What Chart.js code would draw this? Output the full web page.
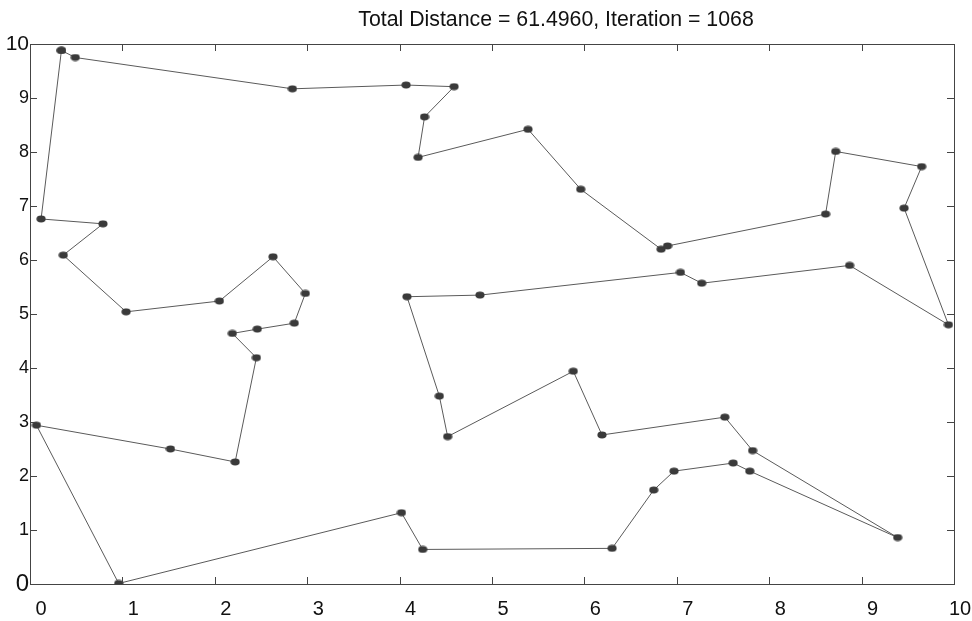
<!DOCTYPE html>
<html>
<head>
<meta charset="utf-8">
<script src="https://cdn.jsdelivr.net/npm/chart.js@4.4.1/dist/chart.umd.min.js"></script>
<style>
  body { margin: 0; background: #fff; }
  #wrap { width: 972px; height: 621px; position: relative; }
</style>
</head>
<body>
<div id="wrap"><canvas id="tour"></canvas></div>
<script>
// city coordinates, in visiting order
var cityX = [0.34, 0.49, 2.84, 4.07, 4.59, 4.27, 4.20, 5.39, 5.96, 6.83,
             6.90, 8.61, 8.72, 9.65, 9.46, 9.94, 8.87, 7.27, 7.04, 4.87,
             4.08, 4.43, 4.52, 5.88, 6.19, 7.52, 7.82, 9.39, 7.79, 7.61,
             6.97, 6.75, 6.30, 4.25, 4.02, 0.96, 0.07, 1.52, 2.22, 2.45,
             2.19, 2.46, 2.86, 2.98, 2.63, 2.05, 1.04, 0.36, 0.79, 0.12];
var cityY = [9.88, 9.75, 9.17, 9.24, 9.21, 8.65, 7.90, 8.42, 7.31, 6.20,
             6.26, 6.85, 8.01, 7.73, 6.96, 4.80, 5.90, 5.57, 5.77, 5.35,
             5.32, 3.48, 2.73, 3.94, 2.76, 3.09, 2.47, 0.86, 2.09, 2.24,
             2.09, 1.74, 0.66, 0.64, 1.32, 0.01, 2.94, 2.50, 2.26, 4.19,
             4.64, 4.72, 4.83, 5.38, 6.06, 5.24, 5.04, 6.09, 6.67, 6.76];
var tickValues = [0, 1, 2, 3, 4, 5, 6, 7, 8, 9, 10];
var totalDistance = "61.4960";
var iteration = 1068;

var route = cityX.map(function (x, i) { return { x: x, y: cityY[i] }; });
route.push(route[0]); // close the tour

// blob-like marker
var dot = document.createElement("canvas");
dot.width = 10; dot.height = 8;
var dctx = dot.getContext("2d");
dctx.fillStyle = "#3a3a3a";
dctx.beginPath();
dctx.ellipse(5, 4, 4.6, 3.4, 0, 0, Math.PI * 2);
dctx.fill();

// frame with inward tick marks, matlab style
var framePlugin = {
    id: "frame",
    afterDatasetsDraw: function (chart) {
        var c = chart.ctx, a = chart.chartArea;
        var xs = chart.scales.x, ys = chart.scales.y;
        var len = 7;
        c.save();
        c.strokeStyle = "#444";
        c.lineWidth = 1;
        c.strokeRect(Math.round(a.left) + 0.5, Math.round(a.top) + 0.5,
                     Math.round(a.right - a.left), Math.round(a.bottom - a.top));
        c.beginPath();
        tickValues.forEach(function (v) {
            var px = Math.round(xs.getPixelForValue(v)) + 0.5;
            c.moveTo(px, a.bottom); c.lineTo(px, a.bottom - len);
            c.moveTo(px, a.top); c.lineTo(px, a.top + len);
            var py = Math.round(ys.getPixelForValue(v)) + 0.5;
            c.moveTo(a.left, py); c.lineTo(a.left + len, py);
            c.moveTo(a.right, py); c.lineTo(a.right - len, py);
        });
        c.stroke();
        c.restore();
    }
};

var titlePlugin = {
    id: "tourTitle",
    afterDraw: function (chart) {
        var c = chart.ctx, a = chart.chartArea;
        c.save();
        c.font = "21.3px 'Liberation Sans', Arial, sans-serif";
        c.fillStyle = "#111";
        c.textAlign = "center";
        c.textBaseline = "middle";
        c.fillText("Total Distance = " + totalDistance + ", Iteration = " + iteration,
                   (a.left + a.right) / 2 + 64, 20);
        c.restore();
    }
};

var ctx = document.getElementById("tour");
var tourChart = new Chart(ctx, {
    type: "scatter",
    data: {
        datasets: [{
            label: "tour",
            data: route,
            showLine: true,
            borderColor: "#5a5a5a",
            borderWidth: 1,
            pointStyle: dot,
            pointRadius: 4,
            pointHoverRadius: 4
        }]
    },
    options: {
        responsive: true,
        maintainAspectRatio: false,
        animation: false,
        layout: { padding: { top: 44, right: 18, left: 0, bottom: 0 } },
        plugins: {
            legend: { display: false },
            title: { display: false },
            tooltip: { enabled: false }
        },
        scales: {
            x: {
                type: "linear",
                min: 0,
                max: 10,
                afterFit: function (s) {
                    s.height = 37;
                    s.paddingLeft = 0;
                    s.paddingRight = 0;
                },
                grid: { display: false, drawTicks: false },
                border: { display: false },
                ticks: {
                    stepSize: 1,
                    autoSkip: false,
                    maxRotation: 0,
                    padding: 13,
                    labelOffset: 11,
                    color: "#111",
                    font: { family: "'Liberation Sans', Arial, sans-serif", size: 20 },
                    // last label sits closer to its tick so it stays on the page
                    callback: function (v) { return v === 10 ? "10\u2002" : String(v); }
                }
            },
            y: {
                type: "linear",
                min: 0,
                max: 10,
                afterFit: function (s) {
                    s.width = 30;
                    s.paddingTop = 0;
                    s.paddingBottom = 0;
                },
                grid: { display: false, drawTicks: false },
                border: { display: false },
                ticks: {
                    stepSize: 1,
                    autoSkip: false,
                    padding: 1,
                    color: "#111",
                    font: function (c) {
                        var v = c.tick ? c.tick.value : 1;
                        var size = v === 0 ? 24 : (v === 10 ? 21 : 18);
                        return { family: "'Liberation Sans', Arial, sans-serif", size: size };
                    }
                }
            }
        }
    },
    plugins: [framePlugin, titlePlugin]
});
</script>
</body>
</html>
